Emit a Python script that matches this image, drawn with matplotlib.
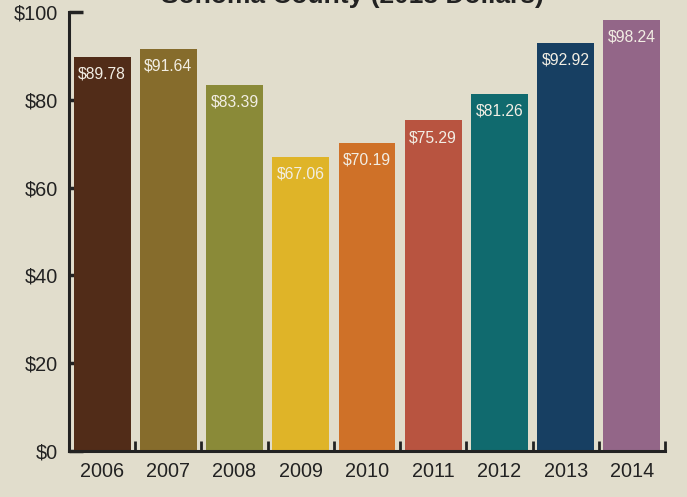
import matplotlib
matplotlib.use("Agg")
import matplotlib.pyplot as plt
import numpy as np

years = ["2006", "2007", "2008", "2009", "2010", "2011", "2012", "2013", "2014"]
values = [89.78, 91.64, 83.39, 67.06, 70.19, 75.29, 81.26, 92.92, 98.24]
colors = ["#512c18", "#866c2c", "#8a8a38", "#dfb428", "#cf7128",
          "#b85440", "#106a6e", "#173f62", "#936688"]
y_ticks = [0, 20, 40, 60, 80, 100]
title = "Sonoma County (2013 Dollars)"

bg = "#e1ddcc"
ink = "#222222"
plt.rcParams["font.family"] = ["Liberation Sans", "DejaVu Sans"]

fig = plt.figure(figsize=(6.87, 4.97), dpi=100, facecolor=bg)
ax = fig.add_axes([69 / 687, 46 / 497, 596 / 687, 439 / 497], facecolor=bg)

x = np.arange(len(years))
ax.bar(x, values, width=0.86, color=colors, zorder=3)

for xi, v in zip(x, values):
    ax.annotate(f"${v:.2f}", (xi, v), xytext=(0, -7), textcoords="offset points",
                ha="center", va="top", color="#f2eee4", fontsize=11.3, zorder=4)

ax.set_xlim(-0.5, len(years) - 0.5)
ax.set_ylim(0, 100)

ax.set_yticks(y_ticks)
ax.set_yticklabels([f"${t}" for t in y_ticks], fontsize=14.3, color=ink)
ax.tick_params(axis="y", direction="in", length=10, width=2.5, color=ink, pad=8)

ax.set_xticks(x)
ax.set_xticklabels(years, fontsize=14.3, color=ink)
ax.tick_params(axis="x", which="major", length=0, pad=8)
ax.set_xticks(np.arange(len(years) + 1) - 0.5, minor=True)
ax.tick_params(axis="x", which="minor", direction="in", length=7.5, width=2, color=ink)

for side in ("top", "right"):
    ax.spines[side].set_visible(False)
for side in ("left", "bottom"):
    ax.spines[side].set_color(ink)
    ax.spines[side].set_linewidth(2.2)
    ax.spines[side].set_zorder(5)

fig.text(352 / 687, 1 - 3 / 497, title, ha="center", va="baseline",
         fontsize=19, fontweight="bold", color=ink)

fig.savefig("out.png", dpi=100, facecolor=bg)
